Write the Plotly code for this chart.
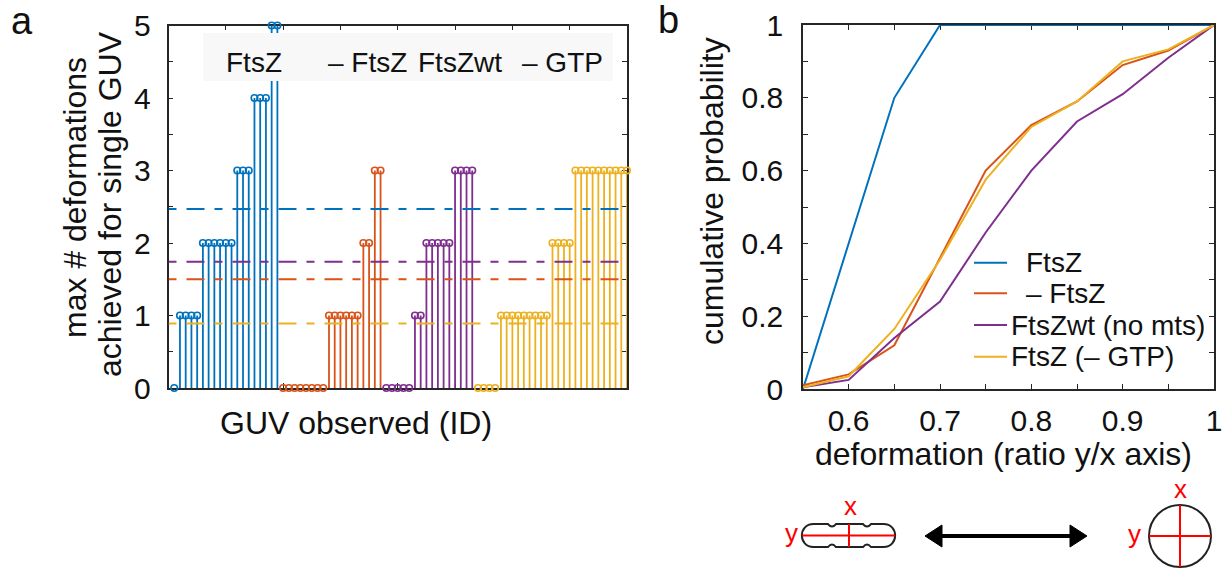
import plotly.graph_objects as go

W, H = 1225, 571

# ---------------- data: panel a (max # deformations per GUV) ----------------
ftsz_counts = [0, 1, 1, 1, 1, 2, 2, 2, 2, 2, 2, 3, 3, 3, 4, 4, 4, 5, 5]
minus_ftsz_counts = [0, 0, 0, 0, 0, 0, 0, 0, 1, 1, 1, 1, 1, 1, 2, 2, 3, 3]
ftszwt_counts = [0, 0, 0, 0, 0, 1, 1, 2, 2, 2, 2, 2, 3, 3, 3, 3]
minus_gtp_counts = [0, 0, 0, 0, 1, 1, 1, 1, 1, 1, 1, 1, 1, 2, 2, 2, 2,
                    3, 3, 3, 3, 3, 3, 3, 3, 3, 3]
group_labels = ["FtsZ", "– FtsZ", "FtsZwt", "– GTP"]
mean_levels = [2.47, 1.74, 1.5, 0.89]

# ---------------- data: panel b (cumulative probability) ----------------
deformation = [0.55, 0.60, 0.65, 0.70, 0.75, 0.80, 0.85, 0.90, 0.95, 1.00]
cdf_ftsz = [0.0, 0.40, 0.80, 1.0, 1.0, 1.0, 1.0, 1.0, 1.0, 1.0]
cdf_minus_ftsz = [0.01, 0.04, 0.12, 0.36, 0.60, 0.725, 0.79, 0.89, 0.93, 1.0]
cdf_ftszwt = [0.005, 0.025, 0.14, 0.24, 0.43, 0.60, 0.735, 0.81, 0.91, 1.0]
cdf_minus_gtp = [0.005, 0.035, 0.165, 0.355, 0.575, 0.72, 0.79, 0.90, 0.933, 1.0]
legend_labels = ["FtsZ", "– FtsZ", "FtsZwt (no mts)", "FtsZ (– GTP)"]

BLUE, ORANGE, YELLOW, PURPLE = "#0072BD", "#D95319", "#EDB120", "#7E2F8E"
FONT = "Liberation Sans, Arial, sans-serif"
AX = "#262626"


def px(x):
    return x / W


def py(y):
    return 1 - y / H


fig = go.Figure()

# ---------------- panel a stems ----------------
groups = [(ftsz_counts, BLUE), (minus_ftsz_counts, ORANGE),
          (ftszwt_counts, PURPLE), (minus_gtp_counts, YELLOW)]
pos = 1
for counts, col in groups:
    xs = list(range(pos, pos + len(counts)))
    pos += len(counts)
    lx, ly = [], []
    for x, v in zip(xs, counts):
        lx += [x, x, None]
        ly += [0, v, None]
    fig.add_trace(go.Scatter(x=lx, y=ly, mode="lines", xaxis="x", yaxis="y",
                             line=dict(color=col, width=1.8), showlegend=False,
                             hoverinfo="skip", cliponaxis=False))
    fig.add_trace(go.Scatter(x=xs, y=counts, mode="markers", xaxis="x", yaxis="y",
                             marker=dict(symbol="circle-open", size=6.5, color=col,
                                         line=dict(width=1.6, color=col)),
                             showlegend=False, cliponaxis=False))

n_total = pos - 1
mean_colors = [BLUE, PURPLE, ORANGE, YELLOW]
for m, col in zip(mean_levels, mean_colors):
    fig.add_trace(go.Scatter(x=[0, n_total], y=[m, m], mode="lines", xaxis="x", yaxis="y",
                             line=dict(color=col, width=2, dash="8px,10px,18px,10px"),
                             showlegend=False, hoverinfo="skip"))

# ---------------- panel b lines ----------------
for ys, col in [(cdf_ftsz, BLUE), (cdf_minus_ftsz, ORANGE),
                (cdf_ftszwt, PURPLE), (cdf_minus_gtp, YELLOW)]:
    fig.add_trace(go.Scatter(x=deformation, y=ys, mode="lines", xaxis="x2", yaxis="y2",
                             line=dict(color=col, width=2), showlegend=False,
                             cliponaxis=False))

# ---------------- axes ----------------
axcommon = dict(showline=True, linecolor=AX, linewidth=1.6, mirror="ticks",
                ticks="inside", ticklen=5, tickcolor=AX, tickwidth=1.2,
                showgrid=False, zeroline=False, layer="below traces", automargin=False,
                tickfont=dict(family=FONT, size=30, color="#111"))

a_left, a_right, a_top, a_bot = 168.5, 627, 25.5, 388
b_left, b_right, b_top, b_bot = 803, 1214, 25, 389

yv_a = [i * 0.5 for i in range(11)]
xv_b = [round(0.55 + 0.05 * i, 2) for i in range(10)]
yv_b = [round(0.1 * i, 1) for i in range(11)]

fig.update_layout(
    width=W, height=H, margin=dict(l=0, r=0, t=0, b=0, pad=0, autoexpand=False),
    paper_bgcolor="white", plot_bgcolor="white", showlegend=False,
    xaxis=dict(domain=[px(a_left), px(a_right)], range=[0, n_total],
               tickvals=[10, 20, 30, 40, 50, 60, 70, 80], ticktext=[""] * 8,
               anchor="y", **axcommon),
    yaxis=dict(domain=[py(a_bot), py(a_top)], range=[0, 5], tickvals=yv_a,
               ticktext=[("%d" % v) if v == int(v) else "" for v in yv_a],
               anchor="x", ticklabelstandoff=10, **axcommon),
    xaxis2=dict(domain=[px(b_left), px(b_right)], range=[0.55, 1], tickvals=xv_b,
                ticktext=["", "0.6", "", "0.7", "", "0.8", "", "0.9", "", "1"],
                anchor="y2", ticklabelstandoff=4, **axcommon),
    yaxis2=dict(domain=[py(b_bot), py(b_top)], range=[0, 1], tickvals=yv_b,
                ticktext=["0", "", "0.2", "", "0.4", "", "0.6", "", "0.8", "", "1"],
                anchor="x2", ticklabelstandoff=12, **axcommon),
)

shapes = []
annotations = []


def ann(text, x, y, size, color="#111", angle=0, xanchor="center", yanchor="middle"):
    annotations.append(dict(text=text, x=px(x), y=py(y), xref="paper", yref="paper",
                            showarrow=False, textangle=angle, xanchor=xanchor,
                            yanchor=yanchor, font=dict(family=FONT, size=size, color=color)))


# group-label box in panel a
shapes.append(dict(type="rect", xref="paper", yref="paper", x0=px(203), x1=px(613),
                   y0=py(81), y1=py(33), fillcolor="#f8f8f8", line=dict(width=0),
                   layer="above"))
for lab, cx in zip(group_labels, [254, 367, 460, 562]):
    ann(lab, cx, 62, 28)

# panel letters
ann("a", 22, 21, 38)
ann("b", 668, 20, 38)

# axis titles
ann("max # deformations", 75, 198, 32, angle=-90)
ann("achieved for single GUV", 110, 204, 32, angle=-90)
ann("GUV observed (ID)", 356, 423, 32)
ann("cumulative probability", 712, 191, 32, angle=-90)
ann("deformation (ratio y/x axis)", 1004, 454, 32)

# legend of panel b
rows = [262.7, 293.3, 325, 356.7]
leg_x = [1024, 1024, 1009, 1009]
for lab, col, ry, lx in zip(legend_labels, [BLUE, ORANGE, PURPLE, YELLOW], rows, leg_x):
    shapes.append(dict(type="line", xref="paper", yref="paper", x0=px(974), x1=px(1007),
                       y0=py(ry), y1=py(ry), line=dict(color=col, width=2)))
    ann(lab, lx, ry, 28, xanchor="left")


def path(cmds):
    out = []
    for c in cmds:
        if isinstance(c, str):
            out.append(c)
        else:
            out.append("%.5f,%.5f" % (px(c[0]), py(c[1])))
    return " ".join(out)


# deformed GUV (capsule with two waists)
cap = path(["M", (813.5, 524), "L", (828, 524), "Q", (832, 529), (836, 524),
            "L", (863, 524), "Q", (867, 529), (871, 524), "L", (883.5, 524),
            "C", (899, 524), (899, 547), (883.5, 547), "L", (871, 547),
            "Q", (867, 542), (863, 547), "L", (836, 547), "Q", (832, 542), (828, 547),
            "L", (813.5, 547), "C", (798, 547), (798, 524), (813.5, 524), "Z"])
shapes.append(dict(type="path", path=cap, xref="paper", yref="paper",
                   line=dict(color="#222", width=2)))
shapes.append(dict(type="line", xref="paper", yref="paper", x0=px(802), x1=px(895),
                   y0=py(535.5), y1=py(535.5), line=dict(color="#ff0000", width=2)))
shapes.append(dict(type="line", xref="paper", yref="paper", x0=px(849), x1=px(849),
                   y0=py(524), y1=py(547), line=dict(color="#ff0000", width=2)))
ann("x", 850, 506, 26, color="#ff0000")
ann("y", 791, 533, 26, color="#ff0000")

# double arrow
shapes.append(dict(type="line", xref="paper", yref="paper", x0=px(935), x1=px(1077),
                   y0=py(536), y1=py(536), line=dict(color="black", width=4)))
shapes.append(dict(type="path", xref="paper", yref="paper",
                   path=path(["M", (925, 536), "L", (942, 525), "L", (942, 547), "Z"]),
                   fillcolor="black", line=dict(color="black", width=1)))
shapes.append(dict(type="path", xref="paper", yref="paper",
                   path=path(["M", (1087, 536), "L", (1070, 525), "L", (1070, 547), "Z"]),
                   fillcolor="black", line=dict(color="black", width=1)))

# round GUV
shapes.append(dict(type="circle", xref="paper", yref="paper", x0=px(1149), x1=px(1211),
                   y0=py(567), y1=py(505), line=dict(color="#222", width=2)))
shapes.append(dict(type="line", xref="paper", yref="paper", x0=px(1149), x1=px(1211),
                   y0=py(536), y1=py(536), line=dict(color="#ff0000", width=2)))
shapes.append(dict(type="line", xref="paper", yref="paper", x0=px(1180), x1=px(1180),
                   y0=py(505), y1=py(567), line=dict(color="#ff0000", width=2)))
ann("x", 1180, 489, 26, color="#ff0000")
ann("y", 1134, 534, 26, color="#ff0000")

fig.update_layout(shapes=shapes, annotations=annotations)
fig.write_html("out.html", config={"displayModeBar": False},
               post_script="document.body.style.margin='0';document.body.style.padding='0';")
